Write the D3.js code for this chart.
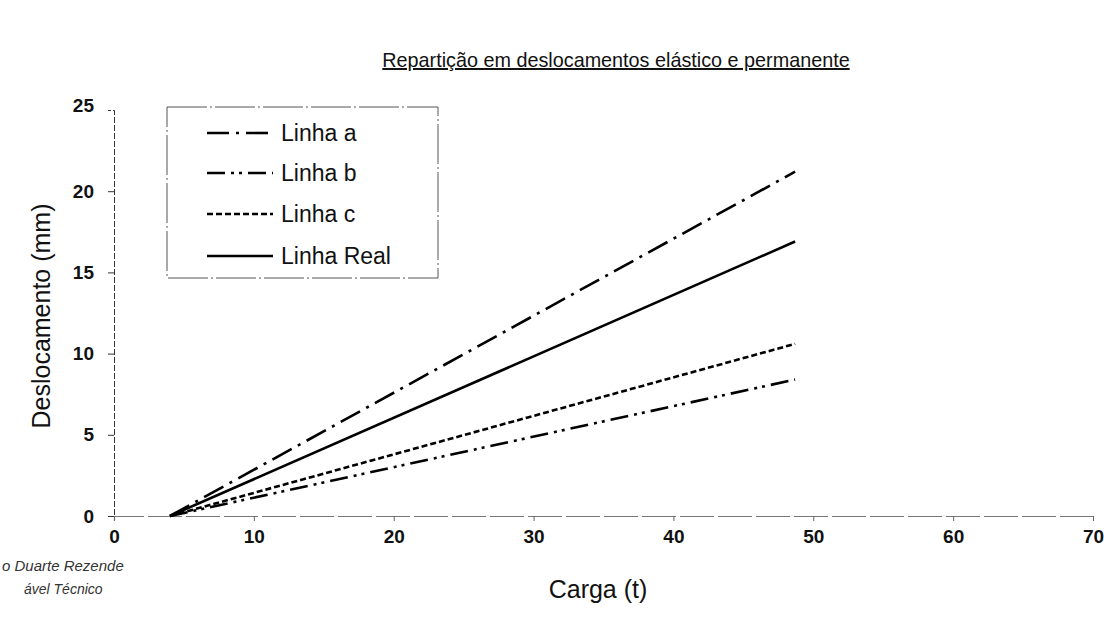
<!DOCTYPE html>
<html>
<head>
<meta charset="utf-8">
<script src="https://cdn.jsdelivr.net/npm/d3@7"></script>
<style>
  html, body { margin: 0; padding: 0; background: #fff; }
  svg { display: block; font-family: "Liberation Sans", Arial, sans-serif; }
</style>
</head>
<body>
<svg id="chart" width="1104" height="618"></svg>
<script>
// ---- data ----
const seriesNames = ["Linha a", "Linha b", "Linha c", "Linha Real"];
const cargaX = [4, 48.7];
const linhaA = [0, 21.2];
const linhaB = [0, 8.4];
const linhaC = [0, 10.6];
const linhaReal = [0, 16.9];
const xTicks = [0, 10, 20, 30, 40, 50, 60, 70];
const yTicks = [0, 5, 10, 15, 20, 25];
const titleText = "Repartição em deslocamentos elástico e permanente";
const xLabel = "Carga (t)";
const yLabel = "Deslocamento (mm)";

const seriesValues = [linhaA, linhaB, linhaC, linhaReal];
const dashes = ["22,7,3,7", "18,6,3,5,3,6", "6,3", null];

const svg = d3.select("#chart");
const x = d3.scaleLinear().domain([0, 70]).range([114, 1093]);
const y = d3.scaleLinear().domain([0, 25]).range([516, 110]);

// title
svg.append("text")
  .attr("x", 616).attr("y", 67)
  .attr("text-anchor", "middle")
  .attr("font-size", 19.8)
  .attr("text-decoration", "underline")
  .attr("fill", "#111")
  .text(titleText);

// x axis
const xAxis = svg.append("g")
  .attr("transform", `translate(0,${y(0)})`)
  .call(d3.axisBottom(x).tickValues(xTicks).tickSize(5).tickPadding(9));
xAxis.select(".domain").attr("stroke", "#777").attr("stroke-width", 1.2).attr("stroke-dasharray", "34,4");
xAxis.selectAll(".tick line").attr("stroke", "#666");
xAxis.selectAll(".tick text").attr("font-size", 19).attr("font-weight", "bold").attr("fill", "#111");

// y axis
const yAxis = svg.append("g")
  .attr("transform", `translate(${x(0)},0)`)
  .call(d3.axisLeft(y).tickValues(yTicks).tickSize(6).tickPadding(14));
yAxis.select(".domain").attr("stroke", "#333").attr("stroke-width", 1).attr("stroke-dasharray", "6,2");
yAxis.selectAll(".tick line").attr("stroke", "#333");
yAxis.selectAll(".tick").filter(d => d === 25).select("line").remove();
yAxis.selectAll(".tick").filter(d => d === 25).select("text").attr("dy", "0.1em");
yAxis.selectAll(".tick text").attr("font-size", 19).attr("font-weight", "bold").attr("fill", "#111");

// axis titles
svg.append("text")
  .attr("transform", `translate(50,${316}) rotate(-90)`)
  .attr("text-anchor", "middle")
  .attr("font-size", 25)
  .attr("fill", "#111")
  .text(yLabel);
svg.append("text")
  .attr("x", 598).attr("y", 598)
  .attr("text-anchor", "middle")
  .attr("font-size", 25)
  .attr("fill", "#111")
  .text(xLabel);

// lines
const line = d3.line().x((d, i) => x(cargaX[i])).y(d => y(d));
seriesValues.forEach((vals, i) => {
  svg.append("path")
    .datum(vals)
    .attr("d", line)
    .attr("fill", "none")
    .attr("stroke", "#000")
    .attr("stroke-width", 2.6)
    .attr("stroke-dasharray", dashes[i]);
});

// legend
const lg = svg.append("g");
lg.append("rect")
  .attr("x", 167).attr("y", 107).attr("width", 271).attr("height", 171)
  .attr("fill", "#fff").attr("stroke", "#555").attr("stroke-width", 1)
  .attr("stroke-dasharray", "40,3,2,3");
const legendRows = [133, 173, 214, 256];
seriesNames.forEach((name, i) => {
  lg.append("line")
    .attr("x1", 207).attr("x2", 273)
    .attr("y1", legendRows[i]).attr("y2", legendRows[i])
    .attr("stroke", "#000").attr("stroke-width", 2.6)
    .attr("stroke-dasharray", dashes[i]);
  lg.append("text")
    .attr("x", 281).attr("y", legendRows[i] + 8)
    .attr("font-size", 23)
    .attr("fill", "#111")
    .text(name);
});

// scanned annotations (partially visible)
svg.append("text").attr("x", 2).attr("y", 571)
  .attr("font-size", 15).attr("font-style", "italic").attr("fill", "#333")
  .text("o Duarte Rezende");
svg.append("text").attr("x", 24).attr("y", 594)
  .attr("font-size", 14).attr("font-style", "italic").attr("fill", "#333")
  .text("ável Técnico");
</script>
</body>
</html>
